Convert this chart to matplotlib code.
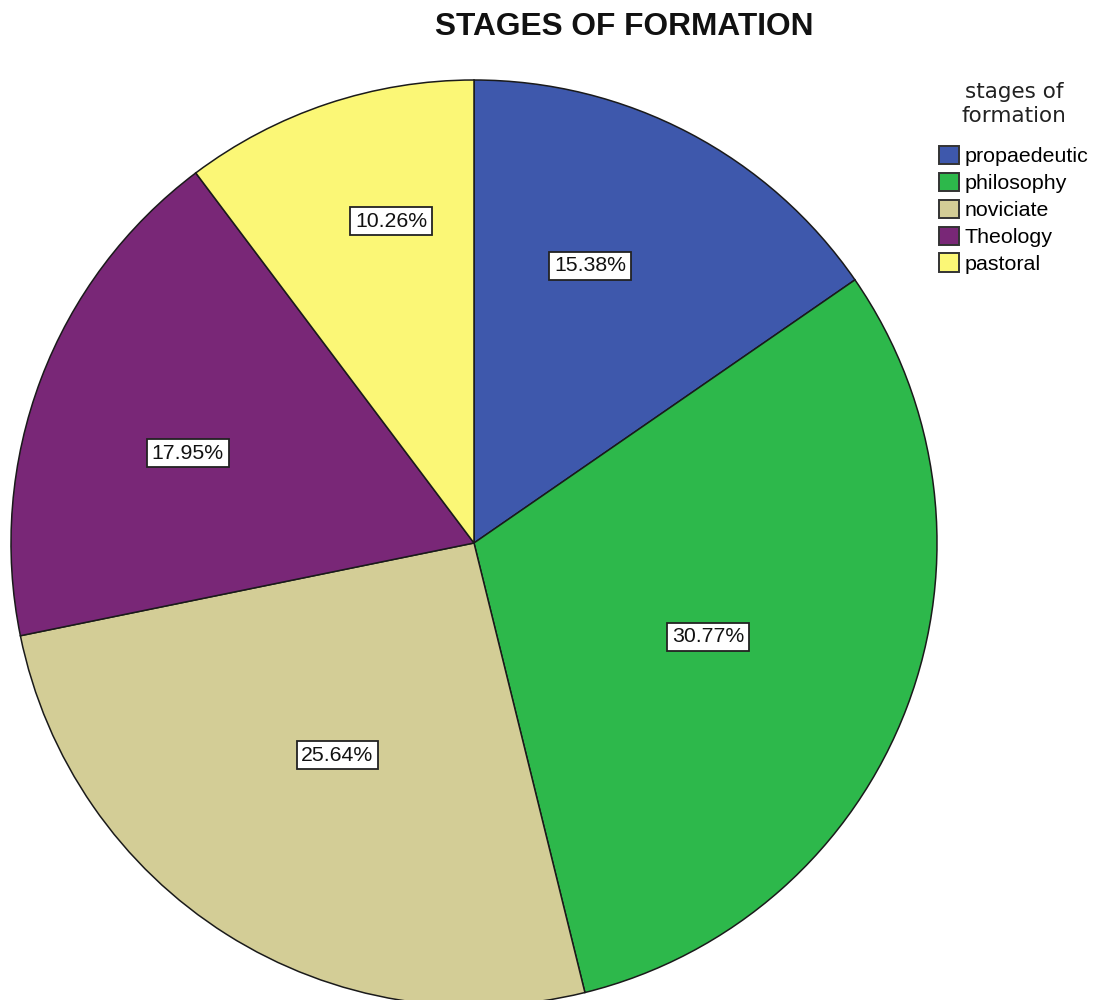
import matplotlib
matplotlib.use("Agg")
import matplotlib.pyplot as plt
from matplotlib.patches import Patch
import numpy as np

categories = ["propaedeutic", "philosophy", "noviciate", "Theology", "pastoral"]
values = [15.38, 30.77, 25.64, 17.95, 10.26]
colors = ["#3E58AC", "#2DB84B", "#D3CD96", "#792777", "#FBF776"]
label_radius = [0.649, 0.545, 0.545, 0.648, 0.718]
label_angle_offset = [5.0, -1.1, -0.5, 3.3, -4.0]

plt.rcParams['font.family'] = ['Liberation Sans', 'DejaVu Sans']

fig = plt.figure(figsize=(10.93, 10.0), dpi=100)
ax = fig.add_axes([11/1093, -6/1000, 926/1093, 926/1000])
wedges, texts, autotexts = ax.pie(
    values, colors=colors, startangle=90, counterclock=False,
    autopct=lambda p: f"{p:.2f}%", pctdistance=0.6,
    wedgeprops=dict(edgecolor="#1a1a1a", linewidth=1.1),
    textprops=dict(fontsize=15.3, color="#111111"))
for w, t, r, d in zip(wedges, autotexts, label_radius, label_angle_offset):
    ang = np.deg2rad((w.theta1 + w.theta2) / 2 + d)
    t.set_position((r * np.cos(ang), r * np.sin(ang)))
    t.set_bbox(dict(boxstyle="square,pad=0.22", facecolor="white", edgecolor="#222222", linewidth=1.3))
ax.set_xlim(-1, 1)
ax.set_ylim(-1, 1)
ax.set_aspect("equal")
ax.axis("off")

fig.text(624/1093, 1 - 27/1000, "STAGES OF FORMATION", ha="center", va="center",
         fontsize=22.8, fontweight="bold", color="#111111")

fig.text(1014/1093, 1 - 104/1000, "stages of\nformation", ha="center", va="center",
         fontsize=15.5, family="DejaVu Sans", color="#222222", linespacing=1.3)

handles = [Patch(facecolor=c, edgecolor="#333333", linewidth=1.4) for c in colors]
leg = fig.legend(handles, categories, loc="upper left", bbox_to_anchor=(939/1093, 1 - 146/1000),
                 frameon=False, fontsize=15.4, handlelength=0.93, handleheight=0.93,
                 handletextpad=0.28, labelspacing=0.3, borderpad=0, borderaxespad=0)

fig.savefig("out.png", dpi=100)
